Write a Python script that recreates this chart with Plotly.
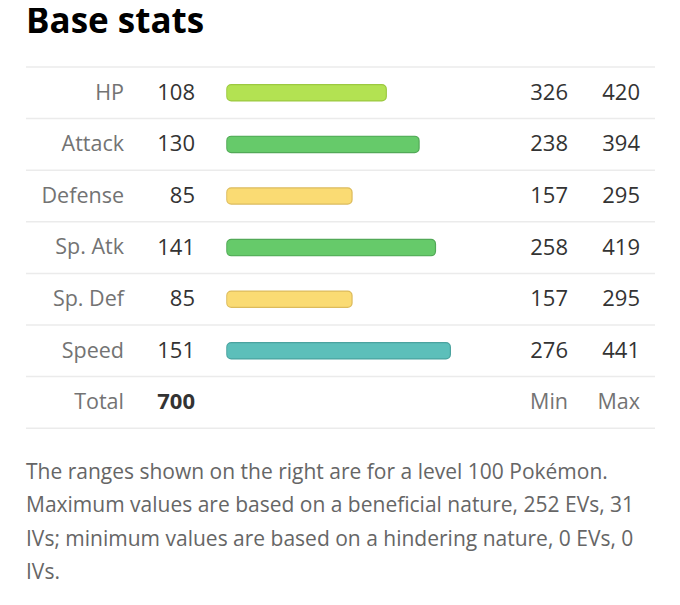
import plotly.graph_objects as go

# stat rows
stats = ["HP", "Attack", "Defense", "Sp. Atk", "Sp. Def", "Speed"]
base = [108, 130, 85, 141, 85, 151]
mins = [326, 238, 157, 258, 157, 276]
maxs = [420, 394, 295, 419, 295, 441]
total = 700
bar_fill = ["#b3e252", "#66ca6a", "#fadb73", "#66ca6a", "#fadb73", "#5cbfba"]
bar_edge = ["#9cc940", "#52a957", "#dcbb5c", "#52a957", "#dcbb5c", "#4aa39f"]
note_lines = [
    "The ranges shown on the right are for a level 100 Pokémon.",
    "Maximum values are based on a beneficial nature, 252 EVs, 31",
    "IVs; minimum values are based on a hindering nature, 0 EVs, 0",
    "IVs.",
]

W, H = 680, 605
OFF = 8             # the page puts the plot 8px in from the corner
row_h = 51.6
top = 67 - OFF      # first separator line, px
bar_x0 = 226 - OFF  # px where bars start
px_per_pt = 1.49
bar_px = 17.5
edge_px = 1.2
R = (W - bar_x0) / px_per_pt   # stat points across the bar area

rows = list(range(len(stats) + 1))   # last row is Total
# y in row units, reversed so row 0 is on top
y_top = -top / row_h - 0.5
y_bot = (H - top) / row_h - 0.5
nudge = 1.5 / row_h  # text sits a touch lower than the box centre

FONT = "Open Sans"
GREY = "#737373"
DARK = "#333333"

fig = go.Figure()

# a bar with a non-zero base gets both ends rounded, so each bar starts a
# hair past zero; an edge-coloured bar sits behind a thinner fill bar
inset = edge_px / px_per_pt

def bar(lo, hi, colors, thick_px, radius):
    fig.add_trace(go.Bar(
        x=[b - a for a, b in zip(lo, hi)], base=lo,
        y=rows[:-1], orientation="h",
        marker=dict(color=colors, line=dict(width=0), cornerradius=radius),
        width=thick_px / row_h,
        xaxis="x", yaxis="y",
        hoverinfo="skip", showlegend=False,
    ))

bar([0.2 * inset] * len(base), base, bar_edge, bar_px, 5)
bar([inset] * len(base), [v - inset for v in base], bar_fill,
    bar_px - 2 * edge_px, 4)

# text columns on a pixel-wide second axis
def col(xpx, texts, color, size=22, weight="normal", ys=None):
    ys = ys if ys is not None else rows[:len(texts)]
    fig.add_trace(go.Scatter(
        x=[xpx - OFF] * len(texts), y=[v + nudge for v in ys],
        mode="text", text=texts, textposition="middle left",
        textfont=dict(family=FONT, size=size, color=color, weight=weight),
        xaxis="x2", yaxis="y", hoverinfo="skip", showlegend=False,
        cliponaxis=False,
    ))

col(124, stats + ["Total"], GREY, size=21.5)
col(195, [str(v) for v in base], DARK)
col(195, [str(total)], DARK, weight="bold", ys=[rows[-1]])
col(568, [str(v) for v in mins], DARK)
col(640, [str(v) for v in maxs], DARK)
col(568, ["Min"], GREY, size=21.5, ys=[rows[-1]])
col(640, ["Max"], GREY, size=21.5, ys=[rows[-1]])

# row separators
for i in range(len(rows) + 1):
    fig.add_shape(type="line", xref="paper", yref="y",
                  x0=(26 - OFF) / W, x1=(655 - OFF) / W, y0=i - 0.5, y1=i - 0.5,
                  line=dict(color="#ebebeb", width=1.5), layer="below")

fig.add_annotation(
    text="<b>Base stats</b>", xref="paper", yref="paper",
    x=(24 - OFF) / W, y=1 - (20 - OFF) / H, xanchor="left", yanchor="middle",
    showarrow=False, font=dict(family=FONT, size=35, color="#000000"),
)

for k, line in enumerate(note_lines):
    fig.add_annotation(
        text=line, xref="paper", yref="paper",
        x=(24 - OFF) / W, y=1 - (471 + 33.3 * k - OFF) / H,
        xanchor="left", yanchor="middle", align="left",
        showarrow=False, font=dict(family=FONT, size=21, color="#666666"),
    )

fig.update_layout(
    width=W, height=H,
    margin=dict(l=0, r=0, t=0, b=0),
    paper_bgcolor="white", plot_bgcolor="rgba(0,0,0,0)",
    barmode="overlay",
    xaxis=dict(domain=[bar_x0 / W, 1], range=[0, R],
               visible=False, fixedrange=True),
    xaxis2=dict(domain=[0, 1], range=[0, W], anchor="y",
                visible=False, fixedrange=True),
    yaxis=dict(domain=[0, 1], range=[y_bot, y_top], visible=False,
               fixedrange=True),
)

fig.write_html("out.html")
